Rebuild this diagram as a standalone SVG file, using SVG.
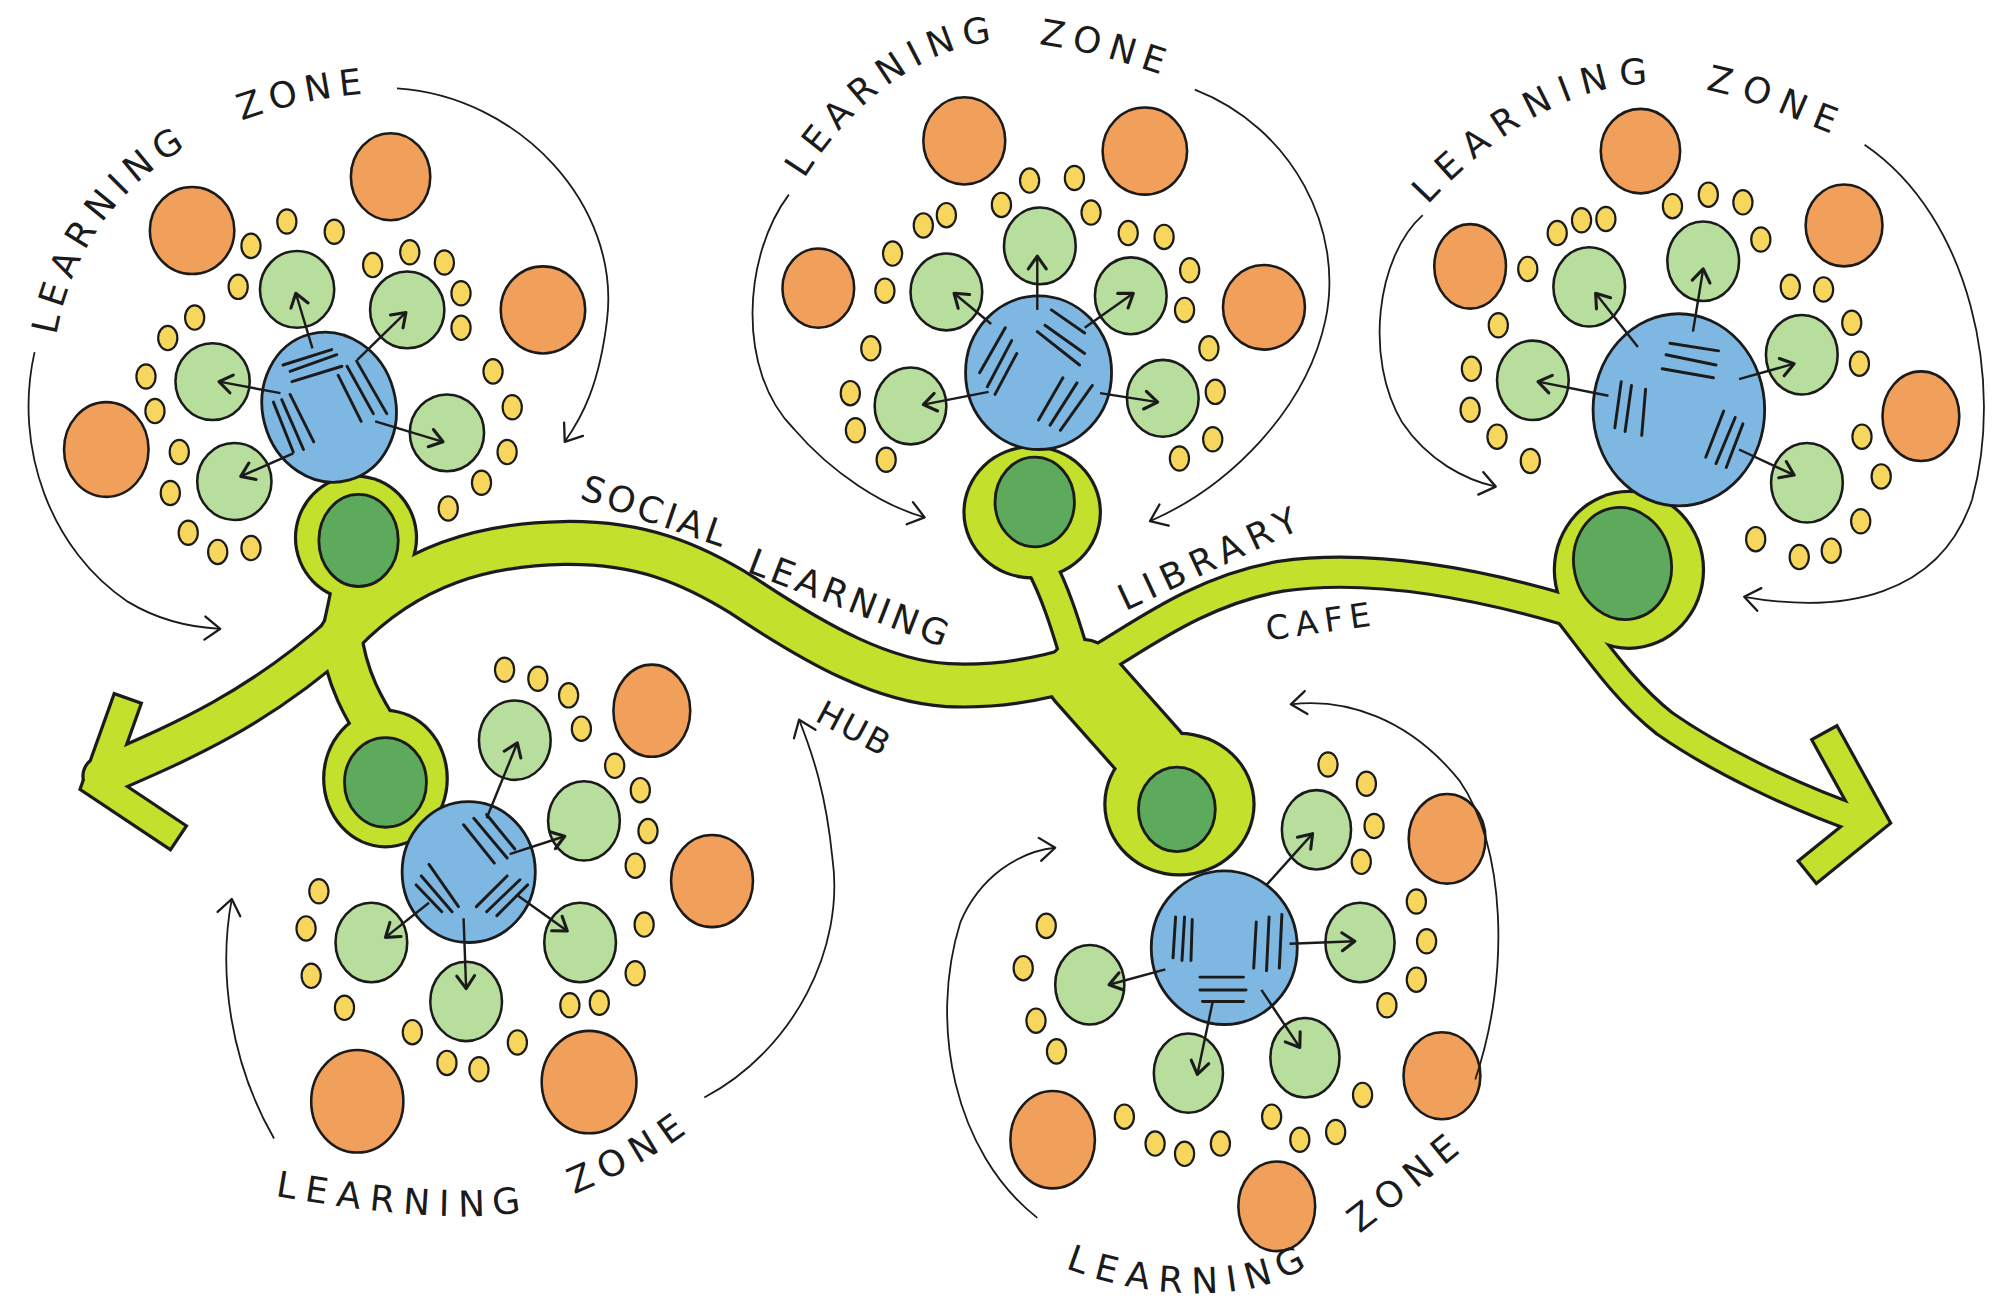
<svg xmlns="http://www.w3.org/2000/svg" width="2008" height="1304" viewBox="0 0 2008 1304">
<defs>
<style>
.o{fill:#F1A05B;stroke:#1b1b1b;stroke-width:2}
.g{fill:#B8DE9E;stroke:#1b1b1b;stroke-width:2}
.b{fill:#7EB8E2;stroke:#1b1b1b;stroke-width:2.2}
.y{fill:#F6D65C;stroke:#1b1b1b;stroke-width:1.7}
.dg{fill:#5DAA5C;stroke:#1b1b1b;stroke-width:2.2}
.h{stroke:#1b1b1b;stroke-width:2.3;stroke-linecap:round;fill:none}
.ar{stroke:#1b1b1b;stroke-width:1.9;fill:none;marker-end:url(#ah)}
.arc{stroke:#1b1b1b;stroke-width:1.4;fill:none;marker-end:url(#ah2)}
.pk{stroke:#1b1b1b;fill:none;stroke-linecap:round;stroke-linejoin:round}
.pl{stroke:#C3E02C;fill:none;stroke-linecap:round;stroke-linejoin:round}
.ck{stroke:#1b1b1b;fill:none;stroke-linecap:square;stroke-linejoin:miter;stroke-width:25}
.cl{stroke:#C3E02C;fill:none;stroke-linecap:square;stroke-linejoin:miter;stroke-width:20}
.bk{fill:#1b1b1b}
.lm{fill:#C3E02C}
.t{font-family:"DejaVu Sans","Liberation Sans",sans-serif;fill:#1b1b1b}
</style>
<marker id="ah" viewBox="-12 -9 14 18" refX="0" refY="0" markerWidth="14" markerHeight="18" orient="auto" markerUnits="userSpaceOnUse" overflow="visible">
<path d="M -10,-7 L 0,0 L -10,7" fill="none" stroke="#1b1b1b" stroke-width="2.4" stroke-linecap="round" stroke-linejoin="round"/>
</marker>
<marker id="ah2" viewBox="-14 -11 16 22" refX="0" refY="0" markerWidth="16" markerHeight="22" orient="auto" markerUnits="userSpaceOnUse" overflow="visible">
<path d="M -12,-9 L 0,0 L -12,9" fill="none" stroke="#1b1b1b" stroke-width="1.8" stroke-linecap="round" stroke-linejoin="round"/>
</marker>
<path id="tp1" d="M 44,262 C 60,170 130,85 296,72"/>
<path id="tp2" d="M 628,140 C 670,70 740,25 800,33 S 880,50 918,62"/>
<path id="tp3" d="M 1115,160 C 1160,110 1230,60 1300,66 S 1400,95 1440,108"/>
<path id="tp4" d="M 215,934 C 280,945 380,960 430,940 S 510,905 545,878"/>
<path id="tp5" d="M 832,990 C 880,1010 960,1020 1010,995 S 1090,940 1165,880"/>
<path id="tps" d="M 452,389 L 560,426 C 568,431 575,441 584,447 L 745,509"/>
</defs>
<rect width="2008" height="1304" fill="#ffffff"/>
<g transform="scale(1.2806)">

<g id="social-learning-hub">
<g id="hub-outline">
<path class="pk" stroke-width="33" d="M 80,606 C 140,580 200,555 268,494"/>
<path class="pk" stroke-width="36" d="M 268,494 C 320,440 380,425 440,424 C 500,423 540,440 580,465 C 640,505 690,532 740,535 C 780,537 815,530 846,520"/>
<path class="pk" stroke-width="26" d="M 846,522 C 880,505 930,462 1000,450 C 1070,440 1150,455 1222,476"/>
<path class="pk" stroke-width="23" d="M 1222,476 C 1245,505 1268,540 1300,565 C 1340,593 1400,622 1452,640"/>
<path class="pk" stroke-width="35" d="M 268,494 C 272,475 276,460 278,440"/>
<path class="pk" stroke-width="35" d="M 266,495 C 270,530 285,555 298,575"/>
<path class="pk" stroke-width="25" d="M 840,515 C 832,488 824,462 812,440"/>
<path class="pk" stroke-width="60" d="M 845,528 L 900,590"/>
<ellipse class="bk" cx="278" cy="420" rx="48.5" ry="49.5"/>
<ellipse class="bk" cx="301" cy="608" rx="49.5" ry="54.5"/>
<ellipse class="bk" cx="806" cy="400" rx="54.5" ry="52.5"/>
<ellipse class="bk" cx="921" cy="628" rx="59.5" ry="56.5"/>
<ellipse class="bk" cx="1272" cy="445" rx="59.5" ry="62.5"/>
<polyline class="ck" points="96,556 76,612 130,648"/>
<polyline class="ck" points="1430,582 1462,640 1420,674"/>
</g>
<g id="hub-fill">
<path class="pl" stroke-width="28" d="M 80,606 C 140,580 200,555 268,494"/>
<path class="pl" stroke-width="31" d="M 268,494 C 320,440 380,425 440,424 C 500,423 540,440 580,465 C 640,505 690,532 740,535 C 780,537 815,530 846,520"/>
<path class="pl" stroke-width="21" d="M 846,522 C 880,505 930,462 1000,450 C 1070,440 1150,455 1222,476"/>
<path class="pl" stroke-width="18" d="M 1222,476 C 1245,505 1268,540 1300,565 C 1340,593 1400,622 1452,640"/>
<path class="pl" stroke-width="30" d="M 268,494 C 272,475 276,460 278,440"/>
<path class="pl" stroke-width="30" d="M 266,495 C 270,530 285,555 298,575"/>
<path class="pl" stroke-width="20" d="M 840,515 C 832,488 824,462 812,440"/>
<path class="pl" stroke-width="55" d="M 845,528 L 900,590"/>
<ellipse class="lm" cx="278" cy="420" rx="46" ry="47"/>
<ellipse class="lm" cx="301" cy="608" rx="47" ry="52"/>
<ellipse class="lm" cx="806" cy="400" rx="52" ry="50"/>
<ellipse class="lm" cx="921" cy="628" rx="57" ry="54"/>
<ellipse class="lm" cx="1272" cy="445" rx="57" ry="60"/>
<ellipse class="lm" cx="842" cy="518" rx="18" ry="16"/>
<polyline class="cl" points="96,556 76,612 130,648"/>
<polyline class="cl" points="1430,582 1462,640 1420,674"/>
</g>
<g id="hub-spaces">
<ellipse class="dg" cx="280" cy="422" rx="31" ry="36"/>
<ellipse class="dg" cx="301" cy="611" rx="32" ry="35"/>
<ellipse class="dg" cx="808" cy="392" rx="31" ry="35"/>
<ellipse class="dg" cx="919" cy="632" rx="30" ry="33"/>
<ellipse class="dg" cx="1267" cy="440" rx="38" ry="44" transform="rotate(-12 1267 440)"/>
</g>
</g>

<g id="zone-1">
<ellipse class="o" cx="305" cy="138" rx="31" ry="34"/>
<ellipse class="o" cx="150" cy="180" rx="33" ry="34"/>
<ellipse class="o" cx="424" cy="242" rx="33" ry="34"/>
<ellipse class="o" cx="83" cy="351" rx="33" ry="37"/>
<g>
<ellipse class="y" cx="224" cy="173" rx="7.5" ry="9.5"/><ellipse class="y" cx="261" cy="181" rx="7.5" ry="9.5"/><ellipse class="y" cx="196" cy="192" rx="7.5" ry="9.5"/><ellipse class="y" cx="186" cy="224" rx="7.5" ry="9.5"/><ellipse class="y" cx="152" cy="248" rx="7.5" ry="9.5"/><ellipse class="y" cx="131" cy="264" rx="7.5" ry="9.5"/><ellipse class="y" cx="114" cy="294" rx="7.5" ry="9.5"/><ellipse class="y" cx="121" cy="321" rx="7.5" ry="9.5"/><ellipse class="y" cx="140" cy="353" rx="7.5" ry="9.5"/><ellipse class="y" cx="133" cy="385" rx="7.5" ry="9.5"/><ellipse class="y" cx="147" cy="416" rx="7.5" ry="9.5"/><ellipse class="y" cx="170" cy="431" rx="7.5" ry="9.5"/><ellipse class="y" cx="196" cy="428" rx="7.5" ry="9.5"/><ellipse class="y" cx="291" cy="207" rx="7.5" ry="9.5"/><ellipse class="y" cx="320" cy="197" rx="7.5" ry="9.5"/><ellipse class="y" cx="347" cy="205" rx="7.5" ry="9.5"/><ellipse class="y" cx="360" cy="229" rx="7.5" ry="9.5"/><ellipse class="y" cx="360" cy="256" rx="7.5" ry="9.5"/><ellipse class="y" cx="385" cy="290" rx="7.5" ry="9.5"/><ellipse class="y" cx="400" cy="318" rx="7.5" ry="9.5"/><ellipse class="y" cx="396" cy="353" rx="7.5" ry="9.5"/><ellipse class="y" cx="376" cy="377" rx="7.5" ry="9.5"/><ellipse class="y" cx="350" cy="397" rx="7.5" ry="9.5"/>
</g>
<ellipse class="g" cx="232" cy="226" rx="29" ry="30"/>
<ellipse class="g" cx="318" cy="242" rx="29" ry="30"/>
<ellipse class="g" cx="166" cy="298" rx="29" ry="30"/>
<ellipse class="g" cx="349" cy="338" rx="29" ry="30"/>
<ellipse class="g" cx="183" cy="376" rx="29" ry="30"/>
<ellipse class="b" cx="257" cy="318" rx="52" ry="59" transform="rotate(-15 257 318)"/>
<path class="h" d="M221,285 L259,273 M226.5,290 L263,277 M228,298 L267,286 M264,293 L282,329 M271,286 L291.5,323 M278.5,282 L302,323 M213.5,314 L229,353 M220,312 L237,351 M226.5,308 L245,345"/>
<path class="ar" d="M244,272 L231,229"/>
<path class="ar" d="M279,281 L317,244"/>
<path class="ar" d="M219,307 L171,298"/>
<path class="ar" d="M293,329 L346,345"/>
<path class="ar" d="M229,354 L188,372"/>
</g>

<g id="zone-2">
<ellipse class="o" cx="753" cy="110" rx="32" ry="34"/>
<ellipse class="o" cx="894" cy="118" rx="33" ry="34"/>
<ellipse class="o" cx="639" cy="225" rx="28" ry="31"/>
<ellipse class="o" cx="987" cy="240" rx="32" ry="33"/>
<g>
<ellipse class="y" cx="721" cy="176" rx="7.5" ry="9.5"/><ellipse class="y" cx="739" cy="168" rx="7.5" ry="9.5"/><ellipse class="y" cx="697" cy="198" rx="7.5" ry="9.5"/><ellipse class="y" cx="691" cy="227" rx="7.5" ry="9.5"/><ellipse class="y" cx="680" cy="272" rx="7.5" ry="9.5"/><ellipse class="y" cx="664" cy="307" rx="7.5" ry="9.5"/><ellipse class="y" cx="668" cy="336" rx="7.5" ry="9.5"/><ellipse class="y" cx="692" cy="359" rx="7.5" ry="9.5"/><ellipse class="y" cx="782" cy="160" rx="7.5" ry="9.5"/><ellipse class="y" cx="804" cy="141" rx="7.5" ry="9.5"/><ellipse class="y" cx="839" cy="139" rx="7.5" ry="9.5"/><ellipse class="y" cx="852" cy="166" rx="7.5" ry="9.5"/><ellipse class="y" cx="881" cy="182" rx="7.5" ry="9.5"/><ellipse class="y" cx="909" cy="185" rx="7.5" ry="9.5"/><ellipse class="y" cx="929" cy="211" rx="7.5" ry="9.5"/><ellipse class="y" cx="925" cy="242" rx="7.5" ry="9.5"/><ellipse class="y" cx="944" cy="272" rx="7.5" ry="9.5"/><ellipse class="y" cx="949" cy="306" rx="7.5" ry="9.5"/><ellipse class="y" cx="921" cy="358" rx="7.5" ry="9.5"/><ellipse class="y" cx="947" cy="343" rx="7.5" ry="9.5"/>
</g>
<ellipse class="g" cx="812" cy="192" rx="28" ry="30"/>
<ellipse class="g" cx="739" cy="228" rx="28" ry="30"/>
<ellipse class="g" cx="883" cy="231" rx="28" ry="30"/>
<ellipse class="g" cx="711" cy="317" rx="28" ry="30"/>
<ellipse class="g" cx="908" cy="311" rx="28" ry="30"/>
<ellipse class="b" cx="811" cy="291" rx="57" ry="60"/>
<path class="h" d="M765,291 L785,256 M771,302 L790,266 M777,308 L794,276 M821,242 L847,260 M816,254 L847,276 M810,259 L843,285 M811,328 L830,295 M820,332 L841,299 M828,336 L853,301"/>
<path class="ar" d="M810,242 L810,200"/>
<path class="ar" d="M774,253 L745,229"/>
<path class="ar" d="M847,256 L885,229"/>
<path class="ar" d="M772,306 L721,316"/>
<path class="ar" d="M859,307 L904,314"/>
</g>

<g id="zone-3">
<ellipse class="o" cx="1281" cy="118" rx="31" ry="33"/>
<ellipse class="o" cx="1148" cy="208" rx="28" ry="33"/>
<ellipse class="o" cx="1440" cy="176" rx="30" ry="32"/>
<ellipse class="o" cx="1500" cy="325" rx="30" ry="35"/>
<g>
<ellipse class="y" cx="1216" cy="182" rx="7.5" ry="9.5"/><ellipse class="y" cx="1235" cy="172" rx="7.5" ry="9.5"/><ellipse class="y" cx="1254" cy="171" rx="7.5" ry="9.5"/><ellipse class="y" cx="1193" cy="210" rx="7.5" ry="9.5"/><ellipse class="y" cx="1170" cy="254" rx="7.5" ry="9.5"/><ellipse class="y" cx="1149" cy="288" rx="7.5" ry="9.5"/><ellipse class="y" cx="1148" cy="320" rx="7.5" ry="9.5"/><ellipse class="y" cx="1169" cy="341" rx="7.5" ry="9.5"/><ellipse class="y" cx="1195" cy="360" rx="7.5" ry="9.5"/><ellipse class="y" cx="1306" cy="161" rx="7.5" ry="9.5"/><ellipse class="y" cx="1334" cy="152" rx="7.5" ry="9.5"/><ellipse class="y" cx="1361" cy="158" rx="7.5" ry="9.5"/><ellipse class="y" cx="1375" cy="187" rx="7.5" ry="9.5"/><ellipse class="y" cx="1398" cy="224" rx="7.5" ry="9.5"/><ellipse class="y" cx="1424" cy="226" rx="7.5" ry="9.5"/><ellipse class="y" cx="1446" cy="252" rx="7.5" ry="9.5"/><ellipse class="y" cx="1452" cy="284" rx="7.5" ry="9.5"/><ellipse class="y" cx="1454" cy="341" rx="7.5" ry="9.5"/><ellipse class="y" cx="1469" cy="372" rx="7.5" ry="9.5"/><ellipse class="y" cx="1453" cy="407" rx="7.5" ry="9.5"/><ellipse class="y" cx="1430" cy="430" rx="7.5" ry="9.5"/><ellipse class="y" cx="1405" cy="435" rx="7.5" ry="9.5"/><ellipse class="y" cx="1371" cy="421" rx="7.5" ry="9.5"/>
</g>
<ellipse class="g" cx="1241" cy="224" rx="28" ry="31"/>
<ellipse class="g" cx="1330" cy="204" rx="28" ry="31"/>
<ellipse class="g" cx="1407" cy="277" rx="28" ry="31"/>
<ellipse class="g" cx="1197" cy="297" rx="28" ry="31"/>
<ellipse class="g" cx="1411" cy="377" rx="28" ry="31"/>
<ellipse class="b" cx="1311" cy="320" rx="67" ry="75"/>
<path class="h" d="M1304,268 L1342,274 M1301,277 L1340,285 M1298,288 L1338,295 M1266,298 L1261,334 M1274,301 L1269,337 M1285,304 L1282,340 M1346,321 L1332,357 M1355,326 L1340,362 M1361,331 L1348,365"/>
<path class="ar" d="M1279,271 L1246,229"/>
<path class="ar" d="M1322,259 L1330,210"/>
<path class="ar" d="M1358,296 L1401,284"/>
<path class="ar" d="M1256,309 L1201,298"/>
<path class="ar" d="M1358,351 L1401,371"/>
</g>

<g id="zone-4">
<ellipse class="o" cx="509" cy="555" rx="30" ry="36"/>
<ellipse class="o" cx="556" cy="688" rx="32" ry="36"/>
<ellipse class="o" cx="279" cy="860" rx="36" ry="40"/>
<ellipse class="o" cx="460" cy="845" rx="37" ry="40"/>
<g>
<ellipse class="y" cx="394" cy="523" rx="7.5" ry="9.5"/><ellipse class="y" cx="420" cy="530" rx="7.5" ry="9.5"/><ellipse class="y" cx="444" cy="543" rx="7.5" ry="9.5"/><ellipse class="y" cx="454" cy="569" rx="7.5" ry="9.5"/><ellipse class="y" cx="480" cy="598" rx="7.5" ry="9.5"/><ellipse class="y" cx="500" cy="617" rx="7.5" ry="9.5"/><ellipse class="y" cx="506" cy="649" rx="7.5" ry="9.5"/><ellipse class="y" cx="496" cy="676" rx="7.5" ry="9.5"/><ellipse class="y" cx="503" cy="722" rx="7.5" ry="9.5"/><ellipse class="y" cx="496" cy="760" rx="7.5" ry="9.5"/><ellipse class="y" cx="468" cy="783" rx="7.5" ry="9.5"/><ellipse class="y" cx="445" cy="785" rx="7.5" ry="9.5"/><ellipse class="y" cx="404" cy="814" rx="7.5" ry="9.5"/><ellipse class="y" cx="374" cy="835" rx="7.5" ry="9.5"/><ellipse class="y" cx="349" cy="830" rx="7.5" ry="9.5"/><ellipse class="y" cx="322" cy="806" rx="7.5" ry="9.5"/><ellipse class="y" cx="269" cy="787" rx="7.5" ry="9.5"/><ellipse class="y" cx="243" cy="762" rx="7.5" ry="9.5"/><ellipse class="y" cx="239" cy="725" rx="7.5" ry="9.5"/><ellipse class="y" cx="249" cy="696" rx="7.5" ry="9.5"/>
</g>
<ellipse class="g" cx="402" cy="578" rx="28" ry="31"/>
<ellipse class="g" cx="456" cy="641" rx="28" ry="31"/>
<ellipse class="g" cx="290" cy="736" rx="28" ry="31"/>
<ellipse class="g" cx="453" cy="736" rx="28" ry="31"/>
<ellipse class="g" cx="364" cy="782" rx="28" ry="31"/>
<ellipse class="b" cx="366" cy="681" rx="52" ry="55"/>
<path class="h" d="M362,644 L386,674 M370,639 L396,670 M380,636 L402,663 M335,675 L358,708 M329,684 L353,712 M325,691 L345,712 M372,708 L396,684 M380,712 L406,687 M388,715 L412,691"/>
<path class="ar" d="M380,639 L404,580"/>
<path class="ar" d="M398,667 L441,653"/>
<path class="ar" d="M335,705 L301,732"/>
<path class="ar" d="M404,699 L443,727"/>
<path class="ar" d="M362,717 L364,772"/>
</g>

<g id="zone-5">
<ellipse class="o" cx="1130" cy="655" rx="30" ry="35"/>
<ellipse class="o" cx="1126" cy="840" rx="30" ry="34"/>
<ellipse class="o" cx="822" cy="890" rx="33" ry="38"/>
<ellipse class="o" cx="997" cy="942" rx="30" ry="35"/>
<g>
<ellipse class="y" cx="1037" cy="597" rx="7.5" ry="9.5"/><ellipse class="y" cx="1067" cy="612" rx="7.5" ry="9.5"/><ellipse class="y" cx="1073" cy="645" rx="7.5" ry="9.5"/><ellipse class="y" cx="1063" cy="673" rx="7.5" ry="9.5"/><ellipse class="y" cx="1106" cy="704" rx="7.5" ry="9.5"/><ellipse class="y" cx="1114" cy="735" rx="7.5" ry="9.5"/><ellipse class="y" cx="1106" cy="765" rx="7.5" ry="9.5"/><ellipse class="y" cx="1083" cy="785" rx="7.5" ry="9.5"/><ellipse class="y" cx="1064" cy="855" rx="7.5" ry="9.5"/><ellipse class="y" cx="1043" cy="884" rx="7.5" ry="9.5"/><ellipse class="y" cx="1015" cy="890" rx="7.5" ry="9.5"/><ellipse class="y" cx="993" cy="872" rx="7.5" ry="9.5"/><ellipse class="y" cx="953" cy="893" rx="7.5" ry="9.5"/><ellipse class="y" cx="925" cy="901" rx="7.5" ry="9.5"/><ellipse class="y" cx="902" cy="893" rx="7.5" ry="9.5"/><ellipse class="y" cx="878" cy="872" rx="7.5" ry="9.5"/><ellipse class="y" cx="825" cy="821" rx="7.5" ry="9.5"/><ellipse class="y" cx="809" cy="797" rx="7.5" ry="9.5"/><ellipse class="y" cx="799" cy="756" rx="7.5" ry="9.5"/><ellipse class="y" cx="817" cy="723" rx="7.5" ry="9.5"/>
</g>
<ellipse class="g" cx="1028" cy="648" rx="27" ry="31"/>
<ellipse class="g" cx="1062" cy="736" rx="27" ry="31"/>
<ellipse class="g" cx="851" cy="769" rx="27" ry="31"/>
<ellipse class="g" cx="928" cy="838" rx="27" ry="31"/>
<ellipse class="g" cx="1019" cy="826" rx="27" ry="31"/>
<ellipse class="b" cx="956" cy="740" rx="57" ry="60"/>
<path class="h" d="M918,716 L916,748 M925,716 L923,750 M931,718 L930,750 M981,720 L979,756 M991,716 L989,758 M1001,714 L999,756 M937,763 L971,763 M937,773 L973,773 M939,782 L971,782"/>
<path class="ar" d="M989,691 L1025,651"/>
<path class="ar" d="M1007,737 L1058,735"/>
<path class="ar" d="M910,757 L866,769"/>
<path class="ar" d="M947,782 L935,839"/>
<path class="ar" d="M985,773 L1015,818"/>
</g>

<g id="connectors">
<path class="arc" d="M 310,69 C 405,75 485,160 474,250 C 468,300 455,325 441,345"/>
<path class="arc" d="M 27,275 C 10,350 40,430 100,470 C 125,485 150,490 172,491"/>
<path class="arc" d="M 616,152 C 580,200 575,290 620,335 C 650,370 690,395 722,404"/>
<path class="arc" d="M 933,70 C 1010,100 1050,180 1035,250 C 1020,320 960,380 898,407"/>
<path class="arc" d="M 1111,168 C 1075,200 1065,280 1095,330 C 1115,360 1145,375 1168,380"/>
<path class="arc" d="M 1456,113 C 1540,170 1565,300 1540,390 C 1515,465 1440,480 1362,466"/>
<path class="arc" d="M 214,889 C 180,830 170,760 181,702"/>
<path class="arc" d="M 550,857 C 620,820 660,740 650,670 C 645,620 635,590 624,562"/>
<path class="arc" d="M 810,951 C 745,900 725,800 750,720 C 765,685 795,665 824,662"/>
<path class="arc" d="M 1152,843 C 1180,760 1175,660 1140,610 C 1100,560 1050,545 1008,550"/>
</g>

<g id="labels">
<text class="t" font-size="28" letter-spacing="5.8" word-spacing="28"><textPath href="#tp1">LEARNING ZONE</textPath></text>
<text class="t" font-size="28" letter-spacing="6.3" word-spacing="15"><textPath href="#tp2">LEARNING ZONE</textPath></text>
<text class="t" font-size="28" letter-spacing="8.2" word-spacing="20"><textPath href="#tp3">LEARNING ZONE</textPath></text>
<text class="t" font-size="28" letter-spacing="7.1" word-spacing="20"><textPath href="#tp4">LEARNING ZONE</textPath></text>
<text class="t" font-size="28" letter-spacing="7.3" word-spacing="25"><textPath href="#tp5">LEARNING ZONE</textPath></text>
<text class="t" font-size="28" letter-spacing="3" word-spacing="12"><textPath href="#tps">SOCIAL LEARNING</textPath></text>
<text class="t" font-size="26" letter-spacing="2" text-anchor="middle" x="663" y="577" transform="rotate(28 663 577)">HUB</text>
<text class="t" font-size="28" letter-spacing="6" text-anchor="middle" x="950" y="444" transform="rotate(-25 950 444)">LIBRARY</text>
<text class="t" font-size="26" letter-spacing="5" text-anchor="middle" x="1033" y="494" transform="rotate(-8 1033 494)">CAFE</text>
</g>

</g>
</svg>
